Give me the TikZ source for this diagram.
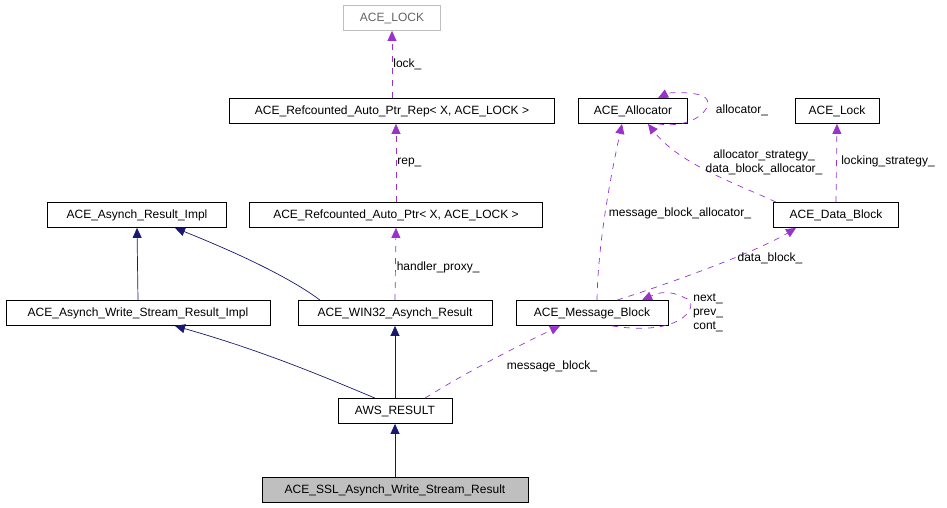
\documentclass[tikz,border=0pt]{standalone}
\usepackage{fontspec}
\setmainfont{Liberation Sans}
\usetikzlibrary{arrows.meta}
\begin{document}
\begin{tikzpicture}[x=1pt,y=-1pt,
  box/.style={draw=black,line width=0.8pt,minimum height=25pt,inner sep=0pt,font=\fontsize{12}{14}\selectfont,anchor=center},
  inh/.style={draw={rgb,255:red,25;green,25;blue,112},line width=0.7pt,-{Triangle[length=10pt,width=9pt]}},
  use/.style={draw={rgb,255:red,153;green,50;blue,204},line width=0.7pt,dash pattern=on 6pt off 6pt,-{Triangle[length=10pt,width=9pt]}},
  lbl/.style={font=\fontsize{12}{14}\selectfont,inner sep=1pt,align=center}]
\useasboundingbox (0,0) rectangle (947,507);
\node[box,draw={rgb,255:red,191;green,191;blue,191},text={rgb,255:red,100;green,100;blue,100},minimum width=97pt] (lk) at (392,18) {ACE\_LOCK};
\node[box,minimum width=325pt] (rep) at (392,111) {ACE\_Refcounted\_Auto\_Ptr\_Rep< X, ACE\_LOCK >};
\node[box,minimum width=109pt] (al) at (633,111) {ACE\_Allocator};
\node[box,minimum width=84pt] (lock) at (837,111) {ACE\_Lock};
\node[box,minimum width=179pt] (ari) at (137,215) {ACE\_Asynch\_Result\_Impl};
\node[box,minimum width=293pt] (ptr) at (396,215) {ACE\_Refcounted\_Auto\_Ptr< X, ACE\_LOCK >};
\node[box,minimum width=125pt] (db) at (836,215) {ACE\_Data\_Block};
\node[box,minimum width=264pt] (wsi) at (138,313) {ACE\_Asynch\_Write\_Stream\_Result\_Impl};
\node[box,minimum width=194pt] (w32) at (395,313) {ACE\_WIN32\_Asynch\_Result};
\node[box,minimum width=152pt] (mb) at (592,313) {ACE\_Message\_Block};
\node[box,minimum width=114pt] (aws) at (395,411) {AWS\_RESULT};
\node[box,fill={rgb,255:red,191;green,191;blue,191},minimum width=266pt] (ssl) at (395,490) {ACE\_SSL\_Asynch\_Write\_Stream\_Result};
% inheritance
\draw[inh] (ssl.north) -- (aws.south);
\draw[inh] (aws.north) -- (w32.south);
\draw[inh] ([xshift=-20pt]aws.north) .. controls (320,375) and (260,350) .. ([xshift=37pt]wsi.south);
\draw[inh] (wsi.north) -- (ari.north |- ari.south);
\draw[inh] ([xshift=-75pt]w32.north) .. controls (300,285) and (260,262) .. ([xshift=38pt]ari.south);
% usage
\draw[use] (rep.north) -- node[lbl,right,pos=0.5] {lock\_} (lk.south);
\draw[use] (ptr.north) -- node[lbl,right,pos=0.5] {rep\_} (ptr.north |- rep.south);
\draw[use] (w32.north) -- node[lbl,right,pos=0.45] {handler\_proxy\_} (ptr.south);
\draw[use] ([xshift=30pt]aws.north) .. controls (470,370) and (520,345) .. ([xshift=-32pt]mb.south);
\node[lbl] (lmb) at (552,366) {message\_block\_};
\draw[use] ([xshift=5pt]mb.north) .. controls (598,240) and (612,170) .. ([xshift=-11pt]al.south);
\node[lbl] (lmba) at (680,213) {message\_block\_allocator\_};
\draw[use] ([xshift=-60pt]db.north) .. controls (740,185) and (680,165) .. ([xshift=15pt]al.south);
\node[lbl] (las) at (764,162) {allocator\_strategy\_\\data\_block\_allocator\_};
\draw[use] (db.north) -- (lock.south);
\node[lbl] (lls) at (888,161) {locking\_strategy\_};
\draw[use] ([xshift=25pt]mb.north) .. controls (680,280) and (760,250) .. ([xshift=-40pt]db.south);
\node[lbl] (ldb) at (770,258) {data\_block\_};
\draw[use] ([xshift=20pt]mb.south) .. controls (690,338) and (700,300) .. (685,298) .. controls (670,290) and (660,292) .. ([xshift=50pt]mb.north);
\node[lbl] (lnx) at (708,313) {next\_\\prev\_\\cont\_};
\draw[use] ([xshift=25pt]al.south) .. controls (700,130) and (720,100) .. (700,95) .. controls (690,92) and (670,92) .. ([xshift=25pt]al.north);
\node[lbl] (lal) at (742,110) {allocator\_};
\end{tikzpicture}
\end{document}
